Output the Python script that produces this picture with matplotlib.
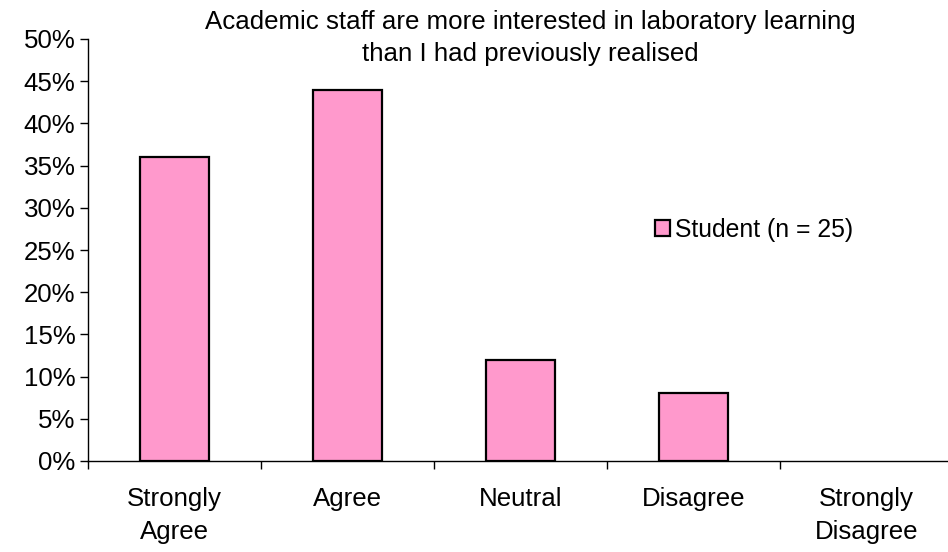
import numpy as np
import matplotlib.pyplot as plt
from matplotlib.ticker import PercentFormatter, FixedLocator

plt.rcParams['font.family'] = ['Liberation Sans', 'DejaVu Sans']

categories = ['Strongly\nAgree', 'Agree', 'Neutral', 'Disagree', 'Strongly\nDisagree']
student = [36, 44, 12, 8, 0]  # percent of responses, n = 25

fs = 18.6

fig = plt.figure(figsize=(9.48, 5.52), dpi=100)
ax = fig.add_axes([88/948, 1 - 461/552, 860/948, (461 - 39)/552])

x = np.arange(len(categories))
bars = ax.bar(x, student, width=0.4, color='#FF99CC', edgecolor='black', linewidth=1.6,
              label='Student (n = 25)', zorder=2)
# empty categories get no outline along the axis
for b, v in zip(bars, student):
    if v == 0:
        b.set_linewidth(0)

ax.set_ylim(0, 50)
ax.set_yticks(np.arange(0, 51, 5))
ax.yaxis.set_major_formatter(PercentFormatter(decimals=0))
ax.set_xlim(-0.5, -0.5 + 860/173)
ax.set_xticks(x)
ax.set_xticklabels(categories, linespacing=1.45)
ax.xaxis.set_minor_locator(FixedLocator(np.arange(-0.5, 4.6, 1)))

ax.tick_params(axis='x', which='major', length=0, pad=19, labelsize=fs)
ax.tick_params(axis='x', which='minor', length=6, width=1, direction='out')
ax.tick_params(axis='y', length=6, width=1, labelsize=fs, pad=3)
ax.spines['top'].set_visible(False)
ax.spines['right'].set_visible(False)
for s in ('left', 'bottom'):
    ax.spines[s].set_linewidth(1)

fig.text(530/948, 1 - 38/552,
         'Academic staff are more interested in laboratory learning\nthan I had previously realised',
         ha='center', va='center', fontsize=fs, linespacing=1.4)

ax.legend(loc='center left', bbox_to_anchor=(655/948, 1 - 230/552), bbox_transform=fig.transFigure,
          frameon=False, fontsize=17.8, handlelength=0.6, handleheight=0.6, handletextpad=0.2,
          borderpad=0, borderaxespad=0)

fig.savefig('out.png', dpi=100)
